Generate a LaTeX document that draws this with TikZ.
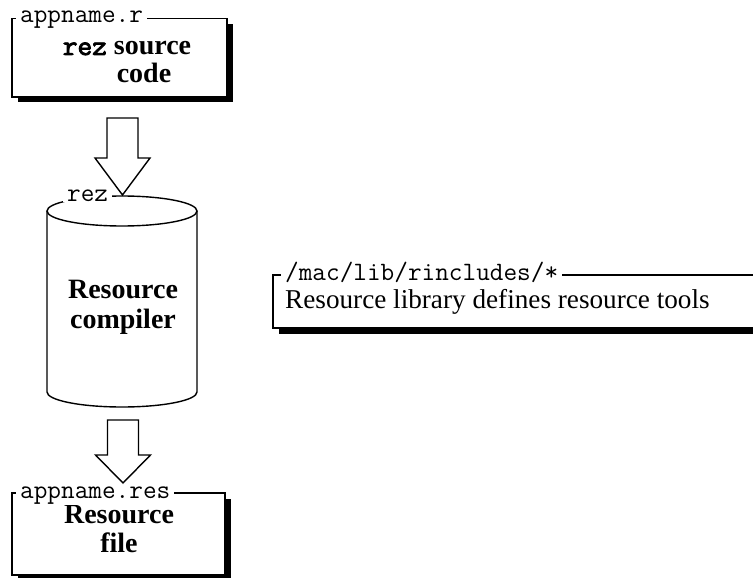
\documentclass[tikz,border=0pt]{standalone}
\usepackage{fontspec}
\setmainfont{Liberation Serif}
\newfontfamily\rezfont{Latin Modern Mono}[FakeBold=3]
\usetikzlibrary{calc,shadows}
\begin{document}
\begin{tikzpicture}[x=1pt,y=-1pt,
  panel/.style={draw, line width=1.4pt, fill=white, inner sep=0pt, outer sep=0pt,
    drop shadow={shadow xshift=5.5pt, shadow yshift=-5.5pt, opacity=1, fill=black}},
  tag/.style={fill=white, inner xsep=4pt, inner ysep=1pt, anchor=base west,
    font=\ttfamily\fontsize{26.5}{28}\selectfont},
  title/.style={inner sep=0pt, anchor=base, font=\bfseries\fontsize{28}{32}\selectfont},
  body/.style={inner sep=0pt, anchor=base west, font=\fontsize{27.2}{30}\selectfont},
  blockarrow/.style={draw, line width=1.4pt, fill=white, line join=miter},
  drum/.style={draw, line width=1.4pt}]
\useasboundingbox (0,0) rectangle (753,578);
\clip (0,0) rectangle (753,578);

% source file box
\node[panel, minimum width=215pt, minimum height=78.5pt] (src) at (119.5,57.75) {};
\node[title] (srct1) at (127,55) {{\rezfont\fontsize{28.5}{30}\selectfont rez} source};
\node[title] (srct2) at (144,82) {code};
\node[tag] (srcname) at (16,23) {appname.r};

% resource library box (runs off to the right)
\node[panel, minimum width=527pt, minimum height=53pt] (lib) at (536.5,301.5) {};
\node[body] (libt) at (285,308) {Resource library defines resource tools};
\node[tag] (libname) at (281,280) {/mac/lib/rincludes/*};

% compiler drum
\node[minimum width=150pt, minimum height=212pt, inner sep=0pt] (comp) at (122,301) {};
\draw[drum] (47,211) -- (47,392)
  arc[start angle=180, end angle=0, x radius=75, y radius=15] -- (197,211);
\draw[drum] (122,211) ellipse[x radius=75, y radius=15];
\node[title] (compt1) at (123,298) {Resource};
\node[title] (compt2) at (123,328) {compiler};
\node[tag] (compname) at (63,201) {rez};

% resource file box
\node[panel, minimum width=213pt, minimum height=82pt] (res) at (118.5,534) {};
\node[title] (rest1) at (119,523) {Resource};
\node[title] (rest2) at (119,552) {file};
\node[tag] (resname) at (16,498) {appname.res};

% hollow block arrows
\coordinate (a1) at (122.5,118);
\coordinate (t1) at (122.5,195);
\draw[blockarrow] ($(a1)+(-15.5,0)$) -- ($(a1)+(15.5,0)$) -- ($(a1)+(15.5,40)$)
  -- ($(a1)+(27.5,40)$) -- (t1) -- ($(a1)+(-27.5,40)$) -- ($(a1)+(-15.5,40)$) -- cycle;
\coordinate (a2) at (123,420);
\coordinate (t2) at (123,483);
\draw[blockarrow] ($(a2)+(-15.5,0)$) -- ($(a2)+(15.5,0)$) -- ($(a2)+(15.5,35)$)
  -- ($(a2)+(27.5,35)$) -- (t2) -- ($(a2)+(-27.5,35)$) -- ($(a2)+(-15.5,35)$) -- cycle;
\end{tikzpicture}
\end{document}
